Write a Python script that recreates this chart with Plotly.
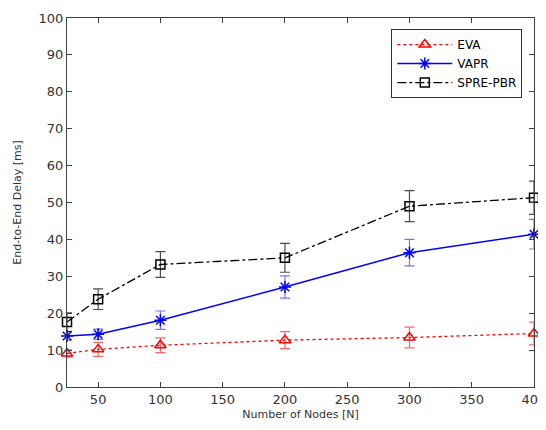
import plotly.graph_objects as go

nodes = [25, 50, 100, 200, 300, 400]
eva = [9.1, 10.2, 11.3, 12.7, 13.4, 14.5]
eva_err = [1.0, 1.9, 2.0, 2.3, 2.8, 3.1]
vapr = [13.8, 14.3, 18.1, 27.1, 36.4, 41.4]
vapr_err = [1.1, 1.4, 2.5, 3.0, 3.6, 4.0]
spre = [17.6, 23.8, 33.2, 35.0, 49.0, 51.3]
spre_err = [2.5, 2.8, 3.5, 3.9, 4.2, 4.5]

x_ticks = [50, 100, 150, 200, 250, 300, 350, 400]
y_ticks = [0, 10, 20, 30, 40, 50, 60, 70, 80, 90, 100]

fig = go.Figure()

def add(name, y, err, color, err_color, dash, symbol, msize):
    fig.add_trace(go.Scatter(
        x=nodes, y=y, name=name, mode="lines+markers", cliponaxis=False,
        line=dict(color=color, width=1.5 if dash == "solid" else 1.3, dash=dash),
        marker=dict(symbol=symbol, size=msize, color=color, line=dict(color=color, width=1.5)),
        error_y=dict(type="data", array=err, visible=True, color=err_color, thickness=1.2, width=5),
    ))

add("EVA", eva, eva_err, "#ff0000", "rgba(255,0,0,0.6)", "dot", "triangle-up-open", 10)
add("VAPR", vapr, vapr_err, "#0000ff", "rgba(0,0,255,0.55)", "solid", "asterisk-open", 10)
add("SPRE-PBR", spre, spre_err, "#000000", "rgba(0,0,0,0.7)", "dashdot", "square-open", 9)

axis_common = dict(
    showline=True, linecolor="#404040", linewidth=1, mirror="allticks",
    ticks="inside", ticklen=5, tickcolor="#404040", showgrid=False, zeroline=False,
    tickfont=dict(family="DejaVu Sans", size=13, color="#333333"),
    ticklabeloverflow="allow", automargin=False,
)

fig.update_layout(
    width=530, height=414,
    margin=dict(l=59, r=4, t=10, b=35),
    paper_bgcolor="white", plot_bgcolor="white",
    xaxis=dict(range=[25, 400], tickvals=x_ticks,
               title=dict(text="Number of Nodes [N]", font=dict(family="DejaVu Sans", size=11, color="#333333"), standoff=4),
               **axis_common),
    yaxis=dict(range=[0, 100], tickvals=y_ticks,
               title=dict(text="End-to-End Delay [ms]", font=dict(family="DejaVu Sans", size=11, color="#333333"), standoff=14),
               **axis_common),
    legend=dict(x=0.975, y=0.97, xanchor="right", yanchor="top",
                bgcolor="white", bordercolor="#333333", borderwidth=1,
                font=dict(family="DejaVu Sans", size=12, color="#000000"),
                tracegroupgap=0, itemwidth=55),
    showlegend=True,
)

fig.write_html("out.html")
